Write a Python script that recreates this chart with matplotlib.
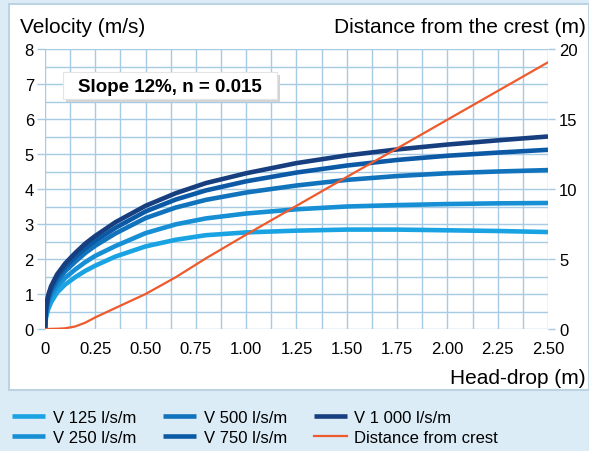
import matplotlib.pyplot as plt
from matplotlib.patches import Rectangle
from matplotlib.ticker import MultipleLocator

plt.rcParams['font.family'] = ['Liberation Sans', 'DejaVu Sans']

# head-drop (m)
head = [0, 0.005, 0.015, 0.03, 0.06, 0.1, 0.15, 0.2, 0.25, 0.35, 0.5, 0.65,
        0.8, 1.0, 1.25, 1.5, 1.75, 2.0, 2.25, 2.5]

# velocity (m/s) per specific discharge
v125 = [0, 0.32, 0.55, 0.76, 1.04, 1.27, 1.48, 1.66, 1.81, 2.07, 2.36, 2.55,
        2.68, 2.76, 2.81, 2.84, 2.84, 2.82, 2.80, 2.77]
v250 = [0, 0.45, 0.72, 0.94, 1.21, 1.46, 1.70, 1.91, 2.09, 2.37, 2.74, 2.99,
        3.16, 3.30, 3.42, 3.50, 3.54, 3.57, 3.59, 3.60]
v500 = [0, 0.52, 0.82, 1.06, 1.36, 1.65, 1.92, 2.17, 2.38, 2.73, 3.17, 3.47,
        3.69, 3.90, 4.10, 4.26, 4.37, 4.45, 4.50, 4.54]
v750 = [0, 0.58, 0.90, 1.15, 1.48, 1.77, 2.06, 2.31, 2.52, 2.89, 3.36, 3.70,
        3.96, 4.22, 4.47, 4.67, 4.83, 4.95, 5.04, 5.12]
v1000 = [0, 0.62, 0.95, 1.22, 1.56, 1.87, 2.17, 2.44, 2.66, 3.05, 3.52, 3.88,
         4.17, 4.45, 4.74, 4.96, 5.13, 5.27, 5.39, 5.50]

# distance from the crest (m)
dist = [0, 0, 0, 0.01, 0.02, 0.05, 0.18, 0.45, 0.83, 1.50, 2.50, 3.70,
        5.05, 6.74, 8.80, 10.86, 12.90, 14.95, 17.00, 19.05]

series = [("V 125 l/s/m", v125, "#1aa3e2"),
          ("V 250 l/s/m", v250, "#168fd5"),
          ("V 500 l/s/m", v500, "#1273bd"),
          ("V 750 l/s/m", v750, "#0c5aa6"),
          ("V 1 000 l/s/m", v1000, "#173f80")]

x_labels = ["0", "0.25", "0.50", "0.75", "1.00", "1.25", "1.50", "1.75",
            "2.00", "2.25", "2.50"]

W, H = 589, 452
fig = plt.figure(figsize=(W / 100, H / 100), dpi=100, facecolor="#dcecf7")

# white panel behind the chart
fig.patches.append(Rectangle((9 / W, 1 - 391 / H), (W - 9) / W, 386 / H,
                             transform=fig.transFigure, facecolor="white",
                             edgecolor="#bcd3e2", linewidth=1.5, zorder=-5))

ax = fig.add_axes([45 / W, 1 - 330 / H, 503 / W, 280 / H])
ax.set_facecolor("none")
grid_c = "#a6cbe3"

handles = []
for label, vals, col in series:
    h, = ax.plot(head, vals, color=col, lw=3.3, solid_capstyle="butt",
                 solid_joinstyle="round", label=label, zorder=3)
    handles.append(h)

ax.set_xlim(0, 2.5)
ax.set_ylim(0, 8)
ax.xaxis.set_minor_locator(MultipleLocator(0.125))
ax.yaxis.set_major_locator(MultipleLocator(1))
ax.yaxis.set_minor_locator(MultipleLocator(0.5))
ax.set_xticks([i * 0.25 for i in range(len(x_labels))])
ax.set_xticklabels(x_labels)
ax.grid(True, which="both", color=grid_c, lw=1.0, zorder=0)
for s in ax.spines.values():
    s.set_visible(False)
ax.tick_params(axis="x", which="both", length=0, pad=9, labelsize=12)
ax.tick_params(axis="y", which="major", length=6, width=1, color=grid_c, pad=2, labelsize=12)
ax.tick_params(axis="y", which="minor", length=0)

ax2 = ax.twinx()
ax2.set_ylim(0, 20)
ax2.yaxis.set_major_locator(MultipleLocator(5))
for s in ax2.spines.values():
    s.set_visible(False)
ax2.tick_params(axis="y", length=5, width=1, color=grid_c, pad=3, labelsize=12)
hd, = ax2.plot(head, dist, color="#ee5a2b", lw=1.6, solid_joinstyle="round",
               label="Distance from crest", zorder=4)
handles.append(hd)

fig.text(20 / W, 1 - 33 / H, "Velocity (m/s)", fontsize=15, va="baseline", ha="left")
fig.text(586 / W, 1 - 33 / H, "Distance from the crest (m)", fontsize=15, va="baseline", ha="right")
fig.text(586 / W, 1 - 384 / H, "Head-drop (m)", fontsize=15, va="baseline", ha="right")

# label box with a soft shadow, drawn above the grid
ax2.add_patch(Rectangle((66 / W, 1 - 103 / H), 214 / W, 27 / H, transform=fig.transFigure,
                        facecolor="#d4d4d4", edgecolor="none", zorder=5, clip_on=False))
ax2.add_patch(Rectangle((63 / W, 1 - 100 / H), 214 / W, 27 / H, transform=fig.transFigure,
                        facecolor="white", edgecolor="#e4e4e4", lw=0.8, zorder=6, clip_on=False))
ax2.text(170 / W, 1 - 87 / H, "Slope 12%, n = 0.015", transform=fig.transFigure,
         fontsize=13.5, fontweight="bold", ha="center", va="center", zorder=7)

fig.legend(handles=handles, ncol=3, loc="upper left", bbox_to_anchor=(12 / W, 1 - 411 / H),
           frameon=False, fontsize=12, handlelength=2.0, handletextpad=0.45,
           columnspacing=1.6, labelspacing=0.3, borderaxespad=0, borderpad=0)

fig.savefig("out.png", dpi=100, facecolor=fig.get_facecolor())
